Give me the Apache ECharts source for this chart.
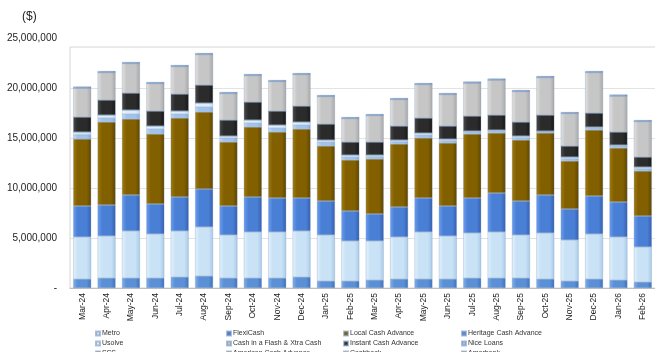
<!DOCTYPE html>
<html>
<head>
<meta charset="utf-8">
<title></title>
<style>
  html, body { margin: 0; padding: 0; background: #fff; }
  #wrap { width: 655px; height: 352px; }
</style>
<script src="https://cdn.jsdelivr.net/npm/echarts@6/dist/echarts.min.js"></script>
</head>
<body>
<div id="wrap"></div>
<script>
// values in $ millions
var months = ['Mar-24','Apr-24','May-24','Jun-24','Jul-24','Aug-24','Sep-24','Oct-24','Nov-24','Dec-24','Jan-25','Feb-25',
              'Mar-25','Apr-25','May-25','Jun-25','Jul-25','Aug-25','Sep-25','Oct-25','Nov-25','Dec-25','Jan-26','Feb-26'];

var heritage  = [0.9,1.0,1.0,1.0,1.1,1.2,1.0,1.0,1.0,1.1,0.7,0.7,0.8,0.9,0.9,0.9,1.0,1.0,1.0,0.9,0.7,0.9,0.8,0.6];
var metro     = [4.2,4.2,4.7,4.4,4.6,4.9,4.3,4.6,4.6,4.6,4.6,4.0,3.9,4.2,4.7,4.3,4.5,4.6,4.3,4.6,4.1,4.5,4.3,3.5];
var flexi     = [3.1,3.1,3.6,3.0,3.4,3.8,2.9,3.5,3.4,3.3,3.4,3.0,2.7,3.0,3.4,3.0,3.5,3.9,3.4,3.8,3.1,3.8,3.5,3.1];
var local     = [6.7,8.3,7.6,7.0,7.9,7.7,6.4,7.0,6.6,6.9,5.5,5.1,5.5,6.3,6.0,6.3,6.4,6.0,6.1,6.2,4.8,6.6,5.4,4.5];
var niceLoans = [0.45,0.4,0.5,0.5,0.4,0.5,0.4,0.4,0.4,0.4,0.4,0.3,0.25,0.25,0.3,0.25,0.2,0.2,0.25,0.15,0.25,0.2,0.2,0.25];
var usolve    = [0.25,0.3,0.4,0.3,0.3,0.4,0.2,0.3,0.3,0.3,0.2,0.2,0.15,0.15,0.2,0.15,0.1,0.1,0.15,0.05,0.15,0.1,0.1,0.15];
var instant   = [1.5,1.5,1.7,1.5,1.7,1.8,1.6,1.8,1.4,1.6,1.6,1.3,1.3,1.4,1.5,1.3,1.5,1.5,1.4,1.6,1.1,1.4,1.3,1.0];
var cashFlash = [2.9,2.75,2.95,2.75,2.75,3.05,2.65,2.65,2.95,3.15,2.75,2.35,2.65,2.65,3.35,3.15,3.3,3.5,3.05,3.75,3.25,4.05,3.6,3.55];
var sss       = [0.15,0.15,0.15,0.15,0.15,0.15,0.15,0.15,0.15,0.15,0.15,0.15,0.15,0.15,0.15,0.15,0.15,0.15,0.15,0.15,0.15,0.15,0.15,0.15];
var american  = [0,0,0,0,0,0,0,0,0,0,0,0,0,0,0,0,0,0,0,0,0,0,0,0];
var cashback  = [0,0,0,0,0,0,0,0,0,0,0,0,0,0,0,0,0,0,0,0,0,0,0,0];
var amarbank  = [0,0,0,0,0,0,0,0,0,0,0,0,0,0,0,0,0,0,0,0,0,0,0,0];

// legend grid as in the picture: 4 columns x 3 rows
var legendCols = [
  ['Metro', 'Usolve', 'SSS'],
  ['FlexiCash', 'Cash in a Flash & Xtra Cash', 'American Cash Advance'],
  ['Local Cash Advance', 'Instant Cash Advance', 'Cashback'],
  ['Heritage Cash Advance', 'Nice Loans', 'Amarbank']
];
var legendLeft = [95, 226, 343, 461];
var legendTop = [330, 340, 350];

var wrap = document.getElementById('wrap');
var chart = echarts.init(wrap);

// bevel-ish look: lighter left edge, darker right edge
function barSeries(name, data, light, mid, dark) {
  return {
    name: name,
    type: 'bar',
    stack: 'total',
    data: data,
    barWidth: 18,
    color: mid,
    itemStyle: {
      color: new echarts.graphic.LinearGradient(0, 0, 1, 0, [
        {offset: 0, color: light},
        {offset: 0.25, color: mid},
        {offset: 0.75, color: mid},
        {offset: 1, color: dark}
      ]),
      borderColor: 'rgba(110,140,180,0.55)',
      borderWidth: 0.5
    },
    animation: false,
    silent: true
  };
}

var series = [
  barSeries('Heritage Cash Advance', heritage, '#7fb0ea', '#5b8fd6', '#3f72bd'),
  barSeries('Metro', metro, '#e4f2fc', '#c9e2f6', '#a9cbe8'),
  barSeries('FlexiCash', flexi, '#6c9ef0', '#4a7fd6', '#355fb0'),
  barSeries('Local Cash Advance', local, '#a07a0c', '#826000', '#5e4500'),
  barSeries('Nice Loans', niceLoans, '#c0dbf6', '#9fc3ee', '#84aedf'),
  barSeries('Usolve', usolve, '#f0f8fe', '#dcedfb', '#c5dcf0'),
  barSeries('American Cash Advance', american, '#9cc0ea', '#84aee0', '#6f98cc'),
  barSeries('Instant Cash Advance', instant, '#4a4a4a', '#2b2b2b', '#181818'),
  barSeries('Cashback', cashback, '#e4e4e4', '#d0d0d0', '#b8b8b8'),
  barSeries('Cash in a Flash & Xtra Cash', cashFlash, '#e2e2e2', '#c6c6c6', '#a9a9a9'),
  barSeries('Amarbank', amarbank, '#9cc0ea', '#84aee0', '#6f98cc'),
  barSeries('SSS', sss, '#a6c4e6', '#7ea2cf', '#5f84b4')
];

var legends = [];
legendCols.forEach(function (col, c) {
  col.forEach(function (name, r) {
    legends.push({
      left: legendLeft[c],
      top: legendTop[r],
      itemWidth: 4,
      itemHeight: 4,
      itemGap: 0,
      icon: 'rect',
      selectedMode: false,
      padding: 0,
      data: [name],
      textStyle: {fontSize: 7, color: '#333', fontFamily: 'Liberation Sans, Arial', padding: [0, 0, 0, -3]}
    });
  });
});

var option = {
  backgroundColor: '#fff',
  animation: false,
  textStyle: {fontFamily: 'Liberation Sans, Arial'},
  graphic: [
    {type: 'text', left: 22, top: 11, style: {text: '($)', fontSize: 12, fill: '#222', fontFamily: 'Liberation Sans, Arial'}},
    {type: 'rect', shape: {x: 70, y: 47, width: 600, height: 241}, style: {fill: 'none', stroke: '#d6d6d6', lineWidth: 1}, z: -1}
  ],
  grid: {left: 70, top: 38, width: 588, height: 250, containLabel: false},
  legend: legends,
  xAxis: {
    type: 'category',
    data: months,
    axisLine: {lineStyle: {color: '#bfbfbf'}},
    axisTick: {show: false},
    axisLabel: {rotate: 90, fontSize: 8.5, color: '#222', margin: 5, interval: 0}
  },
  yAxis: {
    type: 'value',
    min: 0,
    max: 25,
    interval: 5,
    axisLine: {show: false},
    axisTick: {show: false},
    splitLine: {lineStyle: {color: ['#e3e3e3', '#e3e3e3', '#e3e3e3', '#e3e3e3', '#e3e3e3', 'rgba(0,0,0,0)'], width: 1}},
    axisLabel: {
      fontSize: 10,
      color: '#222',
      margin: 13,
      formatter: function (v) {
        return v === 0 ? '-' : (v * 1000000).toLocaleString('en-US');
      }
    }
  },
  series: series
};
chart.setOption(option);
</script>
</body>
</html>
